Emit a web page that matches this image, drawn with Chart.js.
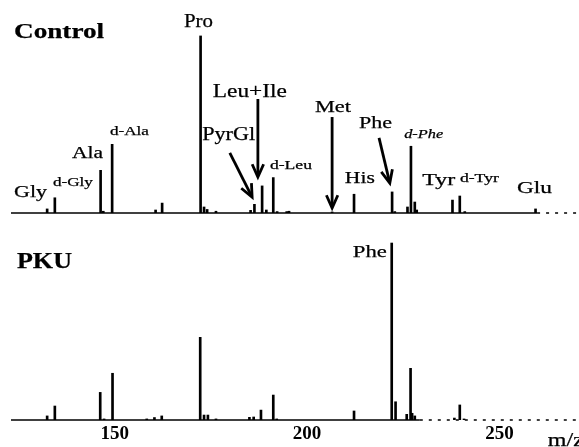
<!DOCTYPE html>
<html><head><meta charset="utf-8">
<script src="https://cdn.jsdelivr.net/npm/chart.js@4.4.1/dist/chart.umd.min.js"></script>
<style>
html,body{margin:0;padding:0;background:#fff;}
#wrap{position:relative;width:579px;height:447px;overflow:hidden;background:#fff;}
canvas{position:absolute;left:0;}
#c1{top:0;}
#c2{top:214px;}
</style></head><body>
<div id="wrap"><canvas id="c1" width="579" height="216"></canvas><canvas id="c2" width="579" height="233"></canvas></div>
<script>
// ---- data (m/z, relative intensity %) ----
const controlMz  = [132.4, 134.4, 146.3, 147.0, 149.3, 160.6, 162.3, 172.3, 173.2, 174.0, 176.3, 185.3, 186.3, 188.3, 189.4, 191.2, 192.2, 194.7, 195.3, 206.5, 212.2, 222.1, 222.8, 226.1, 227.0, 228.0, 228.5, 237.8, 239.7, 241.0, 259.4];
const controlInt = [2.3,   8.6,   24.1,  1.0,   38.8,  1.7,   5.6,   100,   3.4,   2.0,   1.0,   1.5,   4.9,   15.3,  1.7,   20.0,  0.8,   0.8,   1.0,   0.6,   10.6,  11.9,  0.8,   3.4,   37.7,  6.2,   1.7,   7.3,   9.6,   0.8,   2.3];
const pkuMz  = [132.4, 134.4, 146.2, 147.2, 149.4, 158.3, 160.3, 162.2, 172.2, 173.2, 174.2, 176.3, 185.0, 186.1, 188.0, 191.2, 192.1, 212.2, 222.0, 223.0, 225.9, 226.9, 227.3, 228.0, 238.3, 239.7, 240.8];
const pkuInt = [2.3,   7.9,   15.6,  0.6,   26.4,  0.6,   1.4,   2.3,   46.7,  2.8,   2.8,   0.6,   1.5,   1.7,   5.6,   14.1,  0.6,   5.1,   100,   10.3,  3.2,   29.2,  3.8,   2.3,   1.1,   8.5,   0.6];
const tickValues = [150, 200, 250];
const tickLabels = ['150', '200', '250'];
const panelTitles = ['Control', 'PKU'];
const axisTitle = 'm/z';
// m/z where the recorded baseline turns from solid to broken
const baselineBreak = [259.8, 229.3];

// ---- annotations (positions in data units) ----
const controlLabels = [
  {t: panelTitles[0], x: 135.5, y: 98.8, size: 20, bold: true, w: 90},
  {t: 'Pro', x: 171.75, y: 105.1, size: 18, w: 29},
  {t: 'Leu+Ile', x: 185.1, y: 65.5, size: 18, w: 74},
  {t: 'd-Ala', x: 153.8, y: 44.1, size: 12.5, w: 39},
  {t: 'Ala', x: 142.9, y: 31.1, size: 17, w: 31},
  {t: 'PyrGl', x: 179.6, y: 41.2, size: 18, w: 53},
  {t: 'd-Gly', x: 139.1, y: 15.2, size: 12.5, w: 40},
  {t: 'Gly', x: 128.1, y: 9.0, size: 17, w: 33},
  {t: 'd-Leu', x: 195.8, y: 24.9, size: 12.5, w: 42},
  {t: 'Met', x: 206.7, y: 57.0, size: 17, w: 36},
  {t: 'Phe', x: 217.8, y: 48.0, size: 17, w: 33},
  {t: 'd-Phe', x: 230.3, y: 42.4, size: 12.5, italic: true, w: 39},
  {t: 'His', x: 213.7, y: 16.9, size: 17, w: 30},
  {t: 'Tyr', x: 234.2, y: 15.8, size: 17, w: 33},
  {t: 'd-Tyr', x: 244.8, y: 17.5, size: 12.5, w: 39},
  {t: 'Glu', x: 259.1, y: 11.3, size: 17, w: 35}
];
const controlArrows = [
  {x1: 179.9, y1: 33.9, x2: 185.7, y2: 9.0},
  {x1: 187.2, y1: 64.4, x2: 187.2, y2: 20.3},
  {x1: 206.5, y1: 54.2, x2: 206.5, y2: 2.8},
  {x1: 218.7, y1: 42.4, x2: 221.5, y2: 16.9}
];
const pkuLabels = [
  {t: panelTitles[1], x: 131.7, y: 85.9, size: 24, bold: true, w: 55},
  {t: 'Phe', x: 216.3, y: 92.1, size: 17, w: 34},
  {t: axisTitle, x: 262.6, y: -14.7, size: 18, align: 'left', w: 36}
];

const FONT = "'Liberation Serif', 'Times New Roman', serif";

const annotPlugin = {
  id: 'annot',
  afterDraw(chart, args, opts) {
    const ctx = chart.ctx, xs = chart.scales.x, ys = chart.scales.y;
    ctx.save();
    ctx.fillStyle = '#000';
    ctx.strokeStyle = '#000';
    // baseline: solid, then broken beyond the break point
    const y0 = ys.getPixelForValue(0);
    const xb = xs.getPixelForValue(opts.breakAt);
    ctx.lineWidth = 1.5;
    ctx.beginPath(); ctx.moveTo(xs.left, y0); ctx.lineTo(xb, y0); ctx.stroke();
    ctx.setLineDash([3, 6]);
    ctx.beginPath(); ctx.moveTo(xb, y0); ctx.lineTo(xs.right, y0); ctx.stroke();
    ctx.setLineDash([]);
    (opts.labels || []).forEach(l => {
      const px = xs.getPixelForValue(l.x), py = ys.getPixelForValue(l.y);
      ctx.font = (l.italic ? 'italic ' : '') + (l.bold ? 'bold ' : '') + l.size + 'px ' + FONT;
      ctx.textBaseline = 'alphabetic';
      ctx.textAlign = 'left';
      const mw = ctx.measureText(l.t).width;
      const sx = l.w ? l.w / mw : 1;
      ctx.save();
      ctx.translate(px, py);
      ctx.scale(sx, 1);
      const tx = l.align === 'left' ? 0 : -mw / 2;
      ctx.fillText(l.t, tx, 0);
      ctx.lineWidth = 0.25;
      ctx.strokeText(l.t, tx, 0);
      ctx.restore();
    });
    (opts.arrows || []).forEach(a => {
      const x1 = xs.getPixelForValue(a.x1), y1 = ys.getPixelForValue(a.y1);
      const x2 = xs.getPixelForValue(a.x2), y2 = ys.getPixelForValue(a.y2);
      const ang = Math.atan2(y2 - y1, x2 - x1);
      const hl = 14, spread = 0.42;
      ctx.lineWidth = 2.8;
      ctx.lineCap = 'butt';
      ctx.beginPath();
      ctx.moveTo(x1, y1);
      ctx.lineTo(x2 - 2 * Math.cos(ang), y2 - 2 * Math.sin(ang));
      ctx.stroke();
      ctx.lineJoin = 'miter';
      ctx.beginPath();
      ctx.moveTo(x2 - hl * Math.cos(ang - spread), y2 - hl * Math.sin(ang - spread));
      ctx.lineTo(x2, y2);
      ctx.lineTo(x2 - hl * Math.cos(ang + spread), y2 - hl * Math.sin(ang + spread));
      ctx.stroke();
    });
    ctx.restore();
  }
};

function makeChart(id, mz, inten, yMax, isBottom, labels, arrows, breakAt) {
  const xScale = {
    type: 'linear', min: 123, max: 270.7, offset: false,
    grid: {display: false, drawTicks: false},
    border: {display: false},
    ticks: {display: false}
  };
  if (isBottom) {
    xScale.ticks = {
      display: true, padding: 3, color: '#000', maxRotation: 0, autoSkip: false,
      font: {family: FONT, size: 19, weight: 'bold'},
      callback: (v) => tickLabels[tickValues.indexOf(v)]
    };
    xScale.afterBuildTicks = (s) => { s.ticks = tickValues.map(v => ({value: v})); };
    xScale.afterFit = (s) => { s.height = 27; };
  }
  return new Chart(document.getElementById(id), {
    type: 'bar',
    data: {
      datasets: [{
        data: mz.map((m, i) => ({x: m, y: inten[i]})),
        backgroundColor: '#000',
        borderWidth: 0,
        barThickness: 2
      }]
    },
    options: {
      responsive: false,
      animation: false,
      layout: {padding: {left: 11, right: 0, top: 0, bottom: isBottom ? 0 : 3}},
      plugins: {legend: {display: false}, tooltip: {enabled: false}, annot: {labels, arrows, breakAt}},
      scales: {
        x: xScale,
        y: {type: 'linear', min: 0, max: yMax, display: false}
      }
    },
    plugins: [annotPlugin]
  });
}

makeChart('c1', controlMz, controlInt, 120.3, false, controlLabels, controlArrows, baselineBreak[0]);
makeChart('c2', pkuMz, pkuInt, 116.4, true, pkuLabels, [], baselineBreak[1]);
</script>
</body></html>
